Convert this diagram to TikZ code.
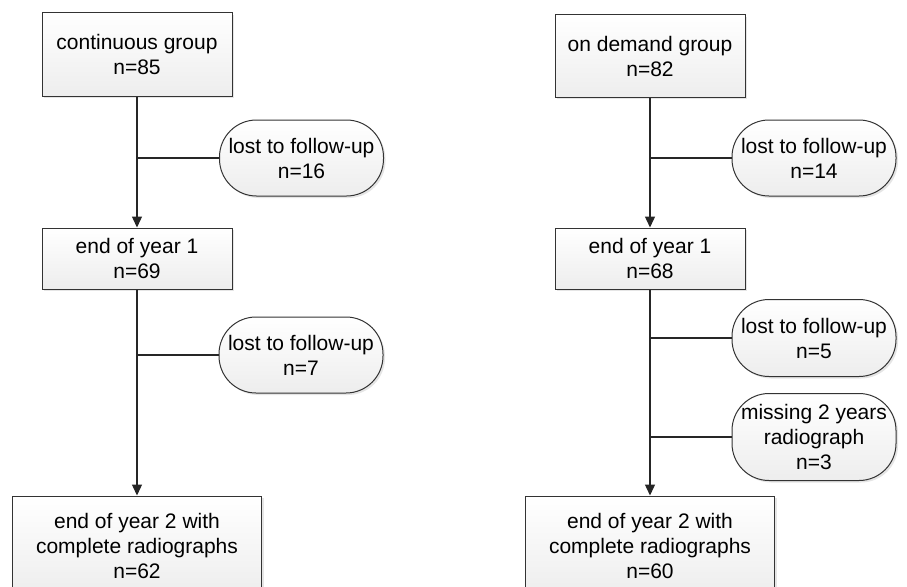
\documentclass[tikz,border=0pt]{standalone}
\usepackage{fontspec}
\setmainfont{Liberation Sans}
\usetikzlibrary{arrows.meta,shadows}

\tikzset{
  flowline/.style={line width=1.4pt, draw=black!85},
  flowarrow/.style={flowline, -{Triangle[length=11pt,width=10pt]}},
  stagebox/.style={draw=black!80, line width=1pt, top color=white, bottom color=gray!14,
    drop shadow={shadow xshift=2pt, shadow yshift=-2pt, fill=gray!50, opacity=0.4},
    align=center, inner sep=0pt, minimum width=190pt, font=\fontsize{21}{25}\selectfont},
  lostbox/.style={stagebox, minimum width=164pt, minimum height=76pt, rounded corners=37pt},
}

\begin{document}
\begin{tikzpicture}[x=1pt,y=-1pt]
\useasboundingbox (0,0) rectangle (907,586);

\node[stagebox, minimum height=83pt] (cont) at (137,54.5) {continuous group\\n=85};
\node[stagebox, minimum height=61pt] (contyear1) at (137,258.5) {end of year 1\\n=69};
\node[stagebox, minimum width=249pt, minimum height=100pt] (contyear2) at (137,546) {end of year 2 with\\complete radiographs\\n=62};
\node[lostbox] (contlost1) at (301.5,158) {lost to follow-up\\n=16};
\node[lostbox] (contlost2) at (301,355) {lost to follow-up\\n=7};

\node[stagebox, minimum height=82pt] (dem) at (650,56) {on demand group\\n=82};
\node[stagebox, minimum height=61pt] (demyear1) at (650,258.5) {end of year 1\\n=68};
\node[stagebox, minimum width=249pt, minimum height=100pt] (demyear2) at (650,546) {end of year 2 with\\complete radiographs\\n=60};
\node[lostbox] (demlost1) at (814,158) {lost to follow-up\\n=14};
\node[lostbox, minimum height=77pt] (demlost2) at (814,338) {lost to follow-up\\n=5};
\node[lostbox, minimum height=87pt] (demmiss) at (814,437) {missing 2 years\\radiograph\\n=3};

\draw[flowarrow] (cont) -- (contyear1);
\draw[flowarrow] (contyear1) -- (contyear2);
\draw[flowline] (cont |- contlost1) -- (contlost1);
\draw[flowline] (contyear1 |- contlost2) -- (contlost2);

\draw[flowarrow] (dem) -- (demyear1);
\draw[flowarrow] (demyear1) -- (demyear2);
\draw[flowline] (dem |- demlost1) -- (demlost1);
\draw[flowline] (demyear1 |- demlost2) -- (demlost2);
\draw[flowline] (demyear1 |- demmiss) -- (demmiss);
\end{tikzpicture}
\end{document}
